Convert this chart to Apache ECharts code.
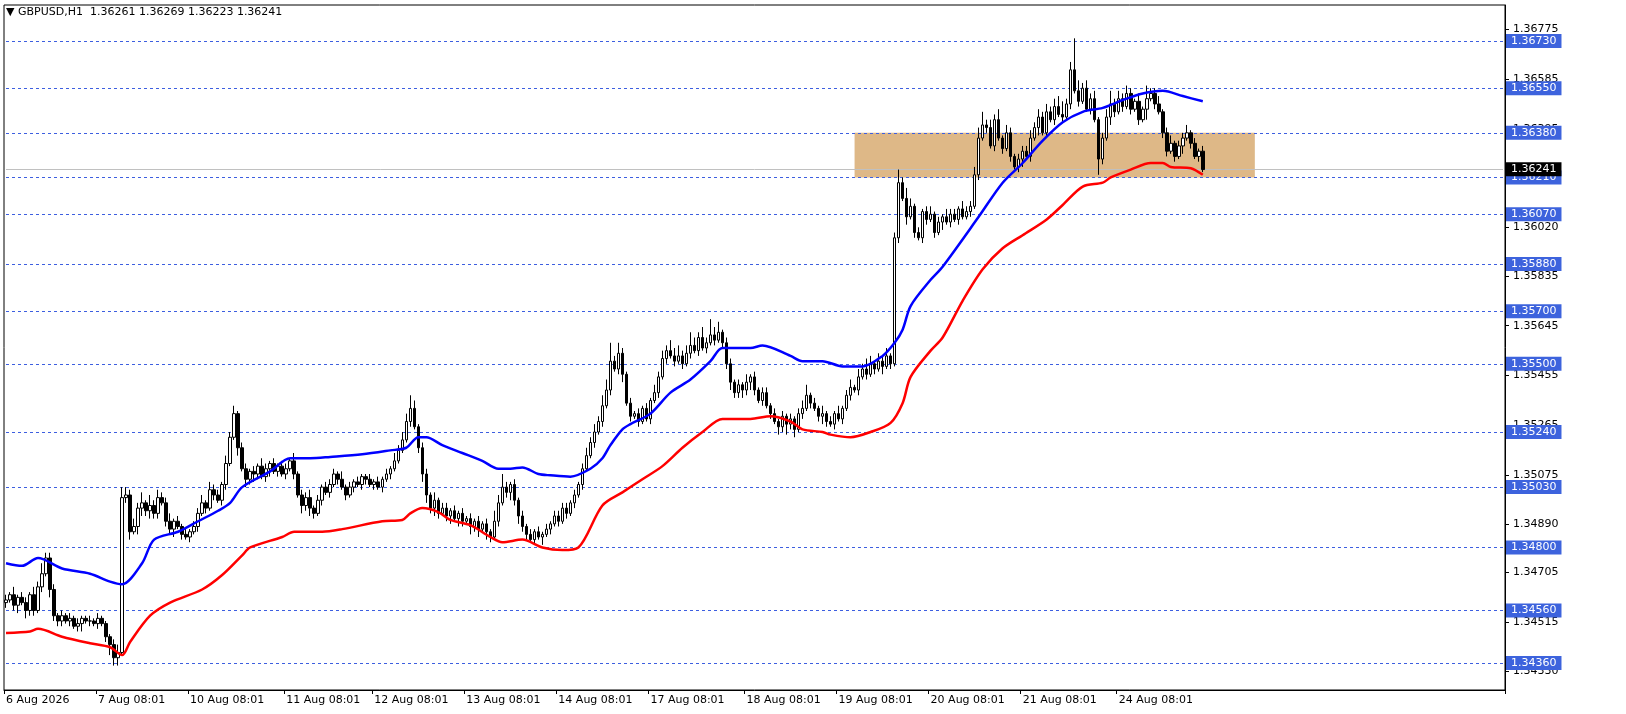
<!DOCTYPE html>
<html>
<head>
<meta charset="utf-8">
<script src="https://cdn.jsdelivr.net/npm/echarts@6/dist/echarts.min.js"></script>
<style>
  html, body { margin: 0; padding: 0; background: #fff; }
  #chart { width: 1626px; height: 714px; }
</style>
</head>
<body>
<div id="chart"></div>
<script>
// prices in pips above 1.3400 (1 unit = 0.0001)
const closes = [
  60,62,58,61,59,56,62,56,65,70,76,64,54,52,54,52,53,50,51,53,52,52,51,53,51,46,43,38,40,99,
  100,86,88,95,97,94,96,93,99,97,90,87,90,88,85,84,86,88,93,97,95,102,100,98,104,112,122,131,118,110,
  106,109,108,111,107,110,112,109,111,108,110,113,108,100,96,99,95,93,98,103,101,104,108,106,103,100,103,105,104,107,
  106,104,105,103,106,108,110,113,117,121,128,133,126,118,108,100,95,98,93,95,92,94,91,93,90,91,88,90,87,89,
  86,84,90,97,103,101,104,98,92,88,85,83,86,84,85,87,89,92,90,95,93,97,100,104,110,115,120,124,128,134,
  140,151,148,154,146,135,130,131,128,133,129,136,139,145,152,155,153,151,153,150,154,157,155,160,156,158,161,159,162,158,
  150,143,139,142,140,143,145,140,136,139,134,131,128,126,130,127,129,125,131,133,138,135,133,130,131,128,127,131,129,133,
  138,141,140,145,148,146,150,148,151,149,153,150,198,219,213,206,210,200,198,208,205,207,200,204,206,204,207,205,209,206,
  208,210,222,236,241,240,233,243,236,232,238,229,225,228,231,229,236,240,244,238,246,243,248,245,244,249,262,254,250,255,
  247,251,243,228,236,244,249,246,251,248,253,247,250,243,247,251,253,249,246,238,231,234,229,233,236,238,234,229,231,224
];
const firstOpen = 59;
// wick lengths per bar in pips (base-36 digits)
const upWicks = '2131221324 2221212121 1212111234 3232414232 2312121223 1322132312 2121321212 2131223121 2221312121 1212121323 ' +
  '3531221312 2121212121 2143521212 1212121222 2121232324 4724212121 2132324342 3532426341 2212131212 2121212123 ' +
  '4121312131 2313243132 3125243121 2312132213 2234523241 3212223232 3234523c42 3231235232 3213152231 2312231212';
const downWicks = '2123132212 1322212123 1212124331 2313323221 2231212121 2121221131 3232123121 2121323212 1212121212 2121212111 ' +
  '1212332321 2313213231 3212123232 2121312121 2121211212 1212312121 1212121212 1212121212 2322323212 1213242312 ' +
  '1212321212 1212121213 1212131212 2121312121 1212121212 1212312131 2121212121 1216213212 1212141212 2121312121';

// moving averages, [bar, pips]
const blueMA = [[0,74],[4,73],[8,76],[14,72],[21,70],[26,67],[29,66],[34,74],[37,83],[43,86],[48,90],[53,94],[56,97],[59,103],
  [66,109],[71,114],[76,114],[81,114.5],[89,115.5],[96,117],[100,118],[103,122],[105,122],[109,119],[114,116],[119,113],[123,110],
  [126,110],[129,110.5],[133,108],[136,107.5],[141,107],[146,110],[149,114],[151,119],[154,125],[156,127],[161,131],[166,139],
  [171,144],[176,151],[179,156],[186,156],[189,157],[196,153],[199,151],[204,151],[209,149],[214,149],[219,153],[222,158],
  [224,163],[226,172],[231,182],[234,187],[243,206],[249,219],[254,226.5],[259,235],[264,242],[269,246],[274,247.5],
  [279,250.5],[284,253],[289,254],[294,252],[299,250]];
const redMA = [[0,47.4],[6,48],[8,49],[14,46],[21,43.5],[26,42],[29,39],[31,44],[36,54],[41,59],[49,64],[54,69.5],[59,77],
  [61,80],[69,84],[72,86],[79,86],[84,87],[94,90],[99,90.5],[101,93],[104,95],[108,93.5],[111,90.5],[116,88.5],[121,84],
  [124,82],[129,83],[134,80],[139,79],[143,80],[149,96],[154,101],[159,106],[164,111],[169,118],[174,124],[179,129],
  [186,129],[191,130],[196,128],[199,125],[204,124],[206,123],[211,122],[216,124],[221,127.5],[224,135],[226,145],
  [231,155],[234,160],[239,174],[244,186],[249,194],[254,199],[260,205],[264,210.5],[269,217.5],[274,219],[276,221],
  [281,224],[286,226.5],[289,226.5],[291,225],[296,224.5],[299,222]];

const levels = [1.3673, 1.3655, 1.3638, 1.3621, 1.3607, 1.3588, 1.3570, 1.3550, 1.3524, 1.3503, 1.3480, 1.3456, 1.3436];
const tickValues = [1.36775, 1.36585, 1.36395, 1.36205, 1.36020, 1.35835, 1.35645, 1.35455, 1.35265, 1.35075, 1.34890, 1.34705, 1.34515, 1.34330];
const dateLabels = {0: '6 Aug 2026', 23: '7 Aug 08:01', 46: '10 Aug 08:01', 70: '11 Aug 08:01', 92: '12 Aug 08:01',
  115: '13 Aug 08:01', 138: '14 Aug 08:01', 161: '17 Aug 08:01', 185: '18 Aug 08:01', 208: '19 Aug 08:01',
  231: '20 Aug 08:01', 254: '21 Aug 08:01', 278: '24 Aug 08:01'};
const zone = { from: 212, to: 312, top: 1.3638, bottom: 1.3621 };
const lastPrice = 1.36241;
const totalSlots = 375;

const toPrice = v => +(1.34 + v / 10000).toFixed(5);
const up = upWicks.replace(/ /g, ''), dn = downWicks.replace(/ /g, '');
const candles = closes.map((c, i) => {
  const o = i === 0 ? firstOpen : closes[i - 1];
  const h = Math.max(o, c) + parseInt(up[i], 36);
  const l = Math.min(o, c) - parseInt(dn[i], 36);
  return [toPrice(o), toPrice(c), toPrice(l), toPrice(h)];
});
const cats = [];
for (let i = 0; i < totalSlots; i++) cats.push(dateLabels[i] || '');

const boxLabel = (text, bg) => ({
  show: true, position: 'end', distance: 3, formatter: text, color: '#fff',
  backgroundColor: bg, padding: [2, 5, 1, 5], fontSize: 11, fontFamily: 'DejaVu Sans'
});
const hLine = (v, style, label) => [
  { coord: [0, v], lineStyle: style, label: label },
  { coord: [totalSlots - 1, v] }
];
const levelLines = levels.map(v => hLine(v, { color: '#3d5fe0', type: [3, 3], width: 1 }, boxLabel(v.toFixed(5), '#3d63dd')));
levelLines.push(hLine(lastPrice, { color: '#c0c0c0', type: 'solid', width: 1 }, boxLabel(lastPrice.toFixed(5), '#000')));

const chart = echarts.init(document.getElementById('chart'));
chart.setOption({
  animation: false,
  textStyle: { fontFamily: 'DejaVu Sans' },
  grid: { left: 4, right: 121, top: 5, bottom: 24, show: true, borderColor: '#000', borderWidth: 1 },
  graphic: [{ type: 'text', left: 6, top: 7, style: { text: '\u25BC GBPUSD,H1  1.36261 1.36269 1.36223 1.36241', fontSize: 11, fill: '#000', fontFamily: 'DejaVu Sans' } }],
  xAxis: {
    type: 'category', data: cats, boundaryGap: true,
    axisLine: { lineStyle: { color: '#000' } },
    axisTick: { show: true, length: 4, interval: (i) => !!dateLabels[i], lineStyle: { color: '#000' } },
    axisLabel: { interval: (i) => !!dateLabels[i], align: 'left', color: '#000', fontSize: 11, margin: 5 },
    splitLine: { show: false }
  },
  yAxis: {
    type: 'value', position: 'right', min: 1.34257, max: 1.36867, scale: true,
    axisLine: { show: true, lineStyle: { color: '#000' } },
    axisTick: { show: true, length: 4, customValues: tickValues, lineStyle: { color: '#000' } },
    axisLabel: { customValues: tickValues, color: '#000', fontSize: 11, margin: 8, formatter: v => v.toFixed(5) },
    splitLine: { show: false }
  },
  series: [
    {
      type: 'candlestick', data: candles, barWidth: 3, z: 3,
      itemStyle: { color: '#fff', color0: '#000', borderColor: '#000', borderColor0: '#000', borderWidth: 1 }
    },
    {
      type: 'line', data: blueMA.map(p => [p[0], toPrice(p[1])]), showSymbol: false, smooth: 0.3,
      lineStyle: { color: '#0000ff', width: 2.5 }, z: 4,
      markArea: {
        silent: true, z: 1, itemStyle: { color: '#deb887' },
        data: [[{ coord: [zone.from, zone.top] }, { coord: [zone.to, zone.bottom] }]]
      },
      markLine: { silent: true, symbol: 'none', z: 2, data: levelLines }
    },
    { type: 'line', data: redMA.map(p => [p[0], toPrice(p[1])]), showSymbol: false, smooth: 0.3, lineStyle: { color: '#ff0000', width: 2.5 }, z: 4 }
  ]
});
</script>
</body>
</html>
